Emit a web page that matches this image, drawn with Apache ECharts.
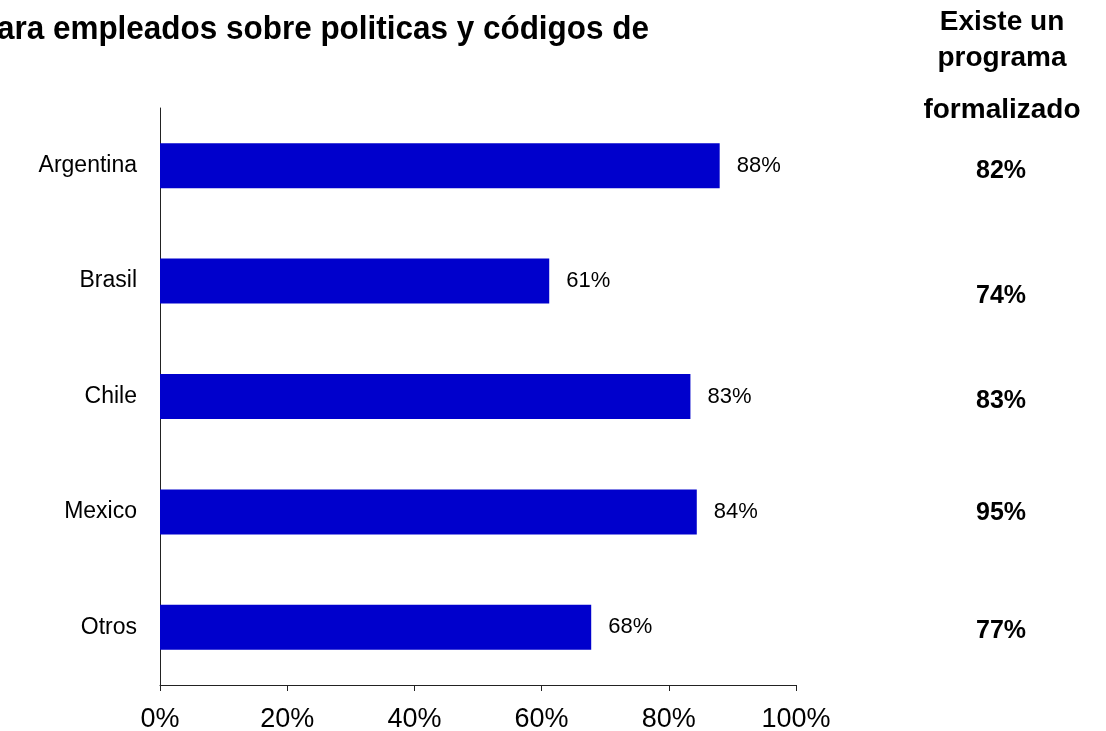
<!DOCTYPE html>
<html>
<head>
<meta charset="utf-8">
<script src="https://cdn.jsdelivr.net/npm/echarts@6/dist/echarts.min.js"></script>
<style>html,body{margin:0;padding:0;background:#fff}#c{width:1106px;height:731px}</style>
</head>
<body>
<div id="c"></div>
<script>
const categories = ['Argentina', 'Brasil', 'Chile', 'Mexico', 'Otros'];
const values = [88.0, 61.2, 83.4, 84.4, 67.8];
const programa = ['82%', '74%', '83%', '95%', '77%'];
const programaY = [171, 296, 401, 513, 631];
const titleText = 'ara empleados sobre politicas y códigos de';
const headerLines = ['Existe un', 'programa', 'formalizado'];
const headerY = [22, 58, 110];

const FONT = '"Liberation Sans", Arial, sans-serif';
const chart = echarts.init(document.getElementById('c'));
const graphics = [
  { type: 'text', x: -3, y: 30, scaleX: 0.925, style: { text: titleText, font: 'bold 34px ' + FONT, fill: '#000', verticalAlign: 'middle' } }
];
headerLines.forEach((t, i) => graphics.push({
  type: 'text', x: 1002, y: headerY[i], style: { text: t, font: 'bold 28px ' + FONT, fill: '#000', align: 'center', verticalAlign: 'middle' }
}));
programa.forEach((t, i) => graphics.push({
  type: 'text', x: 1001, y: programaY[i], style: { text: t, font: 'bold 25px ' + FONT, fill: '#000', align: 'center', verticalAlign: 'middle' }
}));

chart.setOption({
  animation: false,
  backgroundColor: '#fff',
  grid: { left: 160, right: 310, top: 108, bottom: 46, containLabel: false, outerBoundsMode: 'none' },
  xAxis: {
    type: 'value', min: 0, max: 100, interval: 20,
    axisLine: { show: true, lineStyle: { color: '#222', width: 1 } },
    axisTick: { show: true, length: 6, lineStyle: { color: '#222' } },
    splitLine: { show: false },
    axisLabel: { formatter: '{value}%', fontFamily: FONT, fontSize: 27, color: '#000', margin: 21 }
  },
  yAxis: {
    type: 'category', data: categories, inverse: true,
    axisLine: { show: true, lineStyle: { color: '#222', width: 1 } },
    axisTick: { show: false },
    axisLabel: { fontFamily: FONT, fontSize: 23, color: '#000', margin: 23 }
  },
  series: [{
    type: 'bar', data: values, barWidth: 45,
    itemStyle: { color: '#0000CC' },
    label: {
      show: true, position: 'right', distance: 17,
      formatter: p => Math.round(p.value) + '%',
      fontFamily: FONT, fontSize: 22, color: '#000'
    }
  }],
  graphic: graphics
});
</script>
</body>
</html>
